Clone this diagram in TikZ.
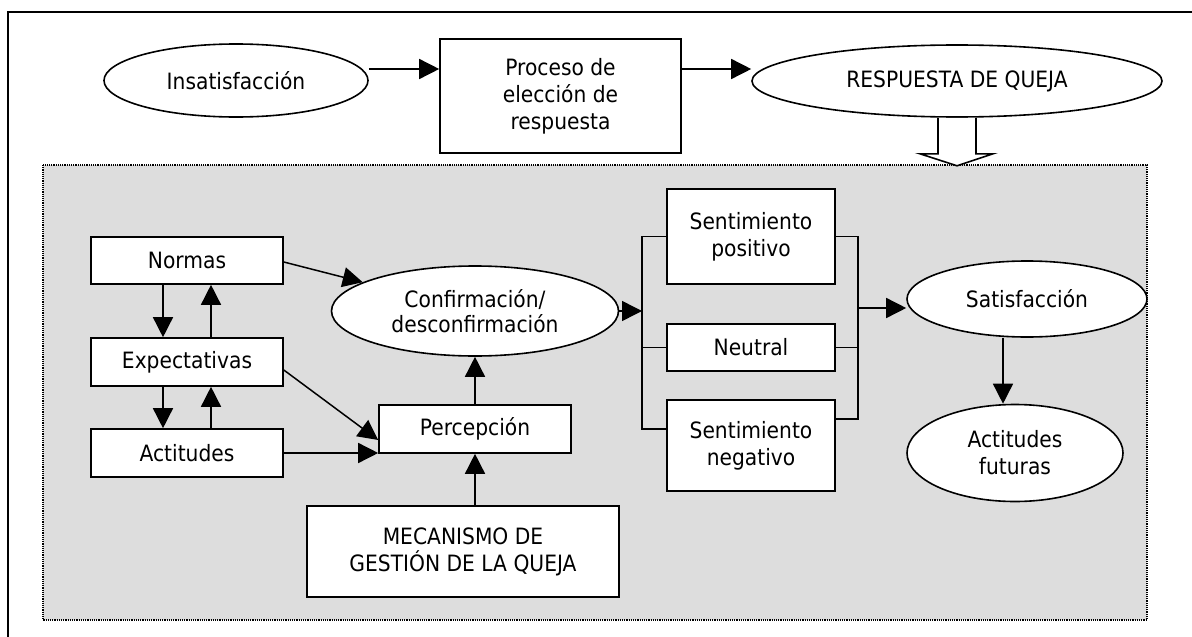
\documentclass[tikz,border=0pt]{standalone}
\usepackage{fontspec}
\setmainfont{DejaVu Sans}[FakeStretch=0.9]
\usetikzlibrary{shapes.geometric,arrows.meta,calc}
\definecolor{bggray}{HTML}{DDDDDD}
\tikzset{
  txt/.style={font=\fontsize{22.5}{27}\selectfont, align=center, inner sep=0pt},
  box/.style={txt, draw, fill=white, line width=1.6pt, rectangle},
  oval/.style={txt, draw, fill=white, line width=1.6pt, ellipse},
  arr/.style={-{Triangle[length=20pt,width=20pt]}, line width=1.5pt},
  ln/.style={line width=1.6pt}
}
\begin{document}
\begin{tikzpicture}[x=1pt,y=-1pt]
\useasboundingbox (0,0) rectangle (1192,637);
% outer frame (cut by page)
\draw[line width=1.5pt] (8,645) -- (8,12) -- (1200,12);
% grey panel
\draw[densely dotted, line width=1.2pt, fill=bggray] (43,165) rectangle (1147,620);

% top row
\node[oval, minimum width=264pt, minimum height=73pt] (ins) at (236,80.5) {Insatisfacción};
\node[box, minimum width=241pt, minimum height=114pt] (proc) at (560.5,96) {Proceso de\\elección de\\respuesta};
\node[oval, minimum width=410pt, minimum height=72pt] (resp) at (957,81) {RESPUESTA DE QUEJA};

% left column
\node[box, minimum width=192pt, minimum height=47pt] (normas) at (187,260.5) {Normas};
\node[box, minimum width=192pt, minimum height=48pt] (expect) at (187,362) {Expectativas};
\node[box, minimum width=192pt, minimum height=48pt] (actit) at (187,453) {Actitudes};

% middle
\node[oval, minimum width=287pt, minimum height=90pt, font=\fontsize{22.5}{25}\selectfont] (conf) at (475,311) {Confirmación/\\desconfirmación};
\node[box, minimum width=192pt, minimum height=48pt] (perc) at (475,429) {Percepción};
\node[box, minimum width=312pt, minimum height=91pt] (mec) at (463,551.5) {MECANISMO DE\\GESTIÓN DE LA QUEJA};

% feelings
\node[box, minimum width=168pt, minimum height=95pt] (spos) at (751,236.5) {Sentimiento\\positivo};
\node[box, minimum width=168pt, minimum height=47pt] (neut) at (751,347.5) {Neutral};
\node[box, minimum width=168pt, minimum height=91pt] (sneg) at (751,445.5) {Sentimiento\\negativo};

% right
\node[oval, minimum width=240pt, minimum height=76pt] (sat) at (1027,299) {Satisfacción};
\node[oval, minimum width=216pt, minimum height=97pt] (fut) at (1015,453) {Actitudes\\futuras};

% top arrows
\draw[arr] ([yshift=11.5pt]ins.east) -- ([yshift=11.5pt]ins.east -| proc.west);
\draw[arr] ([yshift=27pt]proc.east) -- ([yshift=27pt]proc.east -| resp.west);
% hollow arrow
\draw[ln, fill=white] ($(resp.south)+(-19,0)$) -- ++(0,36) -- ++(-18,0)
  -- ($(resp.south)+(0,48)$) -- ($(resp.south)+(36,36)$) -- ++(-17,0) -- ($(resp.south)+(19,0)$);

% left column arrows
\draw[arr] ([xshift=-24pt]normas.south) -- ([xshift=-24pt]expect.north);
\draw[arr] ([xshift=24pt]expect.north) -- ([xshift=24pt]normas.south);
\draw[arr] ([xshift=-24pt]expect.south) -- ([xshift=-24pt]actit.north);
\draw[arr] ([xshift=24pt]actit.north) -- ([xshift=24pt]expect.south);

\draw[arr] ([yshift=-1.5pt]normas.east) -- (conf);
\draw[arr] ([yshift=-8pt]expect.east) -- ([yshift=-11pt]perc.west);
\draw[arr] (actit.east) -- (actit.east -| perc.west);
\draw[arr] (perc.north) -- (conf.south);
\draw[arr] (perc.south |- mec.north) -- (perc.south);

% brackets
\coordinate (bl) at (642,309);
\coordinate (br) at (858,308);
\draw[arr] (conf.east) -- (conf.east -| bl);
\draw[ln] (spos.west) -- (spos.west -| bl) -- ([yshift=16.5pt]sneg.west -| bl) -- ([yshift=16.5pt]sneg.west);
\draw[ln] (neut.west) -- (neut.west -| bl);
\draw[ln] (spos.east) -- (spos.east -| br) -- ([yshift=26.5pt]sneg.east -| br) -- ([yshift=26.5pt]sneg.east);
\draw[ln] (neut.east) -- (neut.east -| br);
\draw[arr] (br) -- (br -| sat.west);
\draw[arr] ([xshift=-24pt]sat.south) -- ([xshift=-12pt]fut.north);
\end{tikzpicture}
\end{document}
